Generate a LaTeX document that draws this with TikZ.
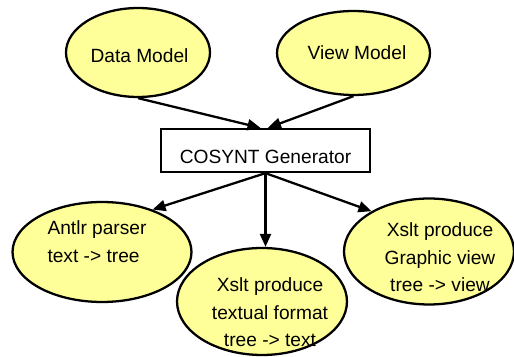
\documentclass[tikz,border=0pt]{standalone}
\usepackage{fontspec}
\setmainfont{Liberation Sans}
\usepackage{tikz}
\usetikzlibrary{shapes,arrows.meta}
\definecolor{modelfill}{RGB}{255,255,153}
\tikzset{x=0.02cm,y=-0.02cm,
  every node/.style={font=\fontsize{10.9}{15.6}\selectfont},
  model/.style={ellipse,draw,fill=modelfill,line width=1.3pt,inner sep=0pt},
  genbox/.style={rectangle,draw,line width=1.3pt,inner sep=0pt,minimum width=4.18cm,minimum height=0.86cm,text height=0.7cm,text depth=0.16cm},
  txt/.style={inner sep=0pt,align=center},
  flow/.style={-{Triangle[length=0.26cm,width=0.22cm]},line width=1.3pt}}

\begin{document}
\begin{tikzpicture}
    \useasboundingbox (0,0) rectangle (514,357);
    \node[model,minimum width=2.88cm,minimum height=1.78cm] (data) at (138,52.5) {};
    \node[model,minimum width=3.06cm,minimum height=1.68cm] (view) at (353.5,53) {};
    \node[genbox] (cosynt) at (265.5,150.5) {COSYNT Generator};
    \node[model,minimum width=3.58cm,minimum height=2cm] (antlr) at (102,252) {};
    \node[model,minimum width=3.4cm,minimum height=2.14cm] (textual) at (262,301.5) {};
    \node[model,minimum width=3.4cm,minimum height=2.12cm] (graphic) at (429,251.5) {};
    % texts
    \node[txt] (data-txt) at ([shift={(1.5,3)}]data.center) {Data Model};
    \node[txt] (view-txt) at ([shift={(3.5,0)}]view.center) {View Model};
    \node[txt,align=left] (antlr-txt) at ([shift={(-5,-10.5)}]antlr.center) {Antlr parser\\text -> tree};
    \node[txt] (textual-txt) at ([shift={(8,11)}]textual.center) {Xslt produce\\textual format\\tree -> text};
    \node[txt] (graphic-txt) at ([shift={(11,6)}]graphic.center) {Xslt produce\\Graphic view\\tree -> view};
    \draw[flow] (data.south) -- ([xshift=-0.1cm]cosynt.north);
    \draw[flow] (view.south) -- ([xshift=0.05cm]cosynt.north);
    \draw[flow] (cosynt.south) -- (antlr.40);
    \draw[flow] (cosynt.south) -- (cosynt.south |- textual.north);
    \draw[flow] (cosynt.south) -- (graphic.145);
\end{tikzpicture}
\end{document}
